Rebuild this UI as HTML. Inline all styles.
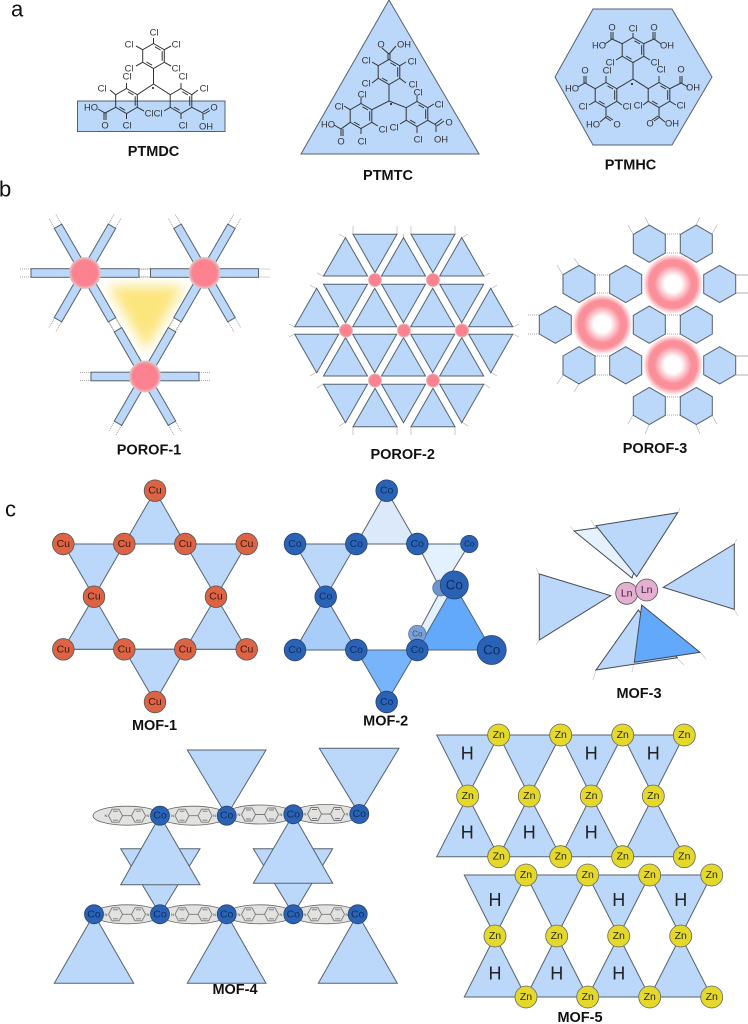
<!DOCTYPE html>
<html><head><meta charset="utf-8"><title>MOF diagram</title>
<style>
html,body{margin:0;padding:0;background:#fff}
svg{display:block;filter:blur(.3px)}
text{font-family:"Liberation Sans",Arial,sans-serif;text-anchor:middle;dominant-baseline:central}
.L{font-size:14.5px;font-weight:bold;fill:#111}
.S{font-size:22px;fill:#111;text-anchor:start}
.c text{font-size:9.4px;fill:#333}
.b{stroke:#333;stroke-width:1;fill:none}
.t use{fill:#bbd8fb;stroke:#56626c;stroke-width:1}
.cu text{font-size:10.5px;fill:#3a1a10}
.co text{font-size:10.5px;fill:#0f2d5c}
.zn text{font-size:10.5px;fill:#2a2a08}
.h text{font-size:18px;fill:#222}
.N text{font-size:4px;fill:#444}
</style></head><body>
<svg xmlns="http://www.w3.org/2000/svg" width="748" height="1024" viewBox="0 0 748 1024">
<defs>
<g id="ring"><polygon points="0,-12.5 10.8,-6.25 10.8,6.25 0,12.5 -10.8,6.25 -10.8,-6.25" fill="none" stroke="#333" stroke-width="1"/><path d="M8.7,-4.8V4.8M-7,6 -1.5,9.2M7,-6 1.5,-9.2" fill="none" stroke="#333" stroke-width="1"/></g>
<g id="arm"><path d="M54,-4H66M54,4H66" stroke="#888" stroke-width=".8" stroke-dasharray="1 1" fill="none"/><rect x="15" y="-4.3" width="39" height="8.6" fill="#bbd8fb" stroke="#56626c" stroke-width="1"/></g>
<polygon id="tu" points="-22,0 22,0 0,-38.4"/>
<polygon id="td" points="-22,0 22,0 0,38.4"/>
<polygon id="hx" points="0,-18.6 16,-9.3 16,9.3 0,18.6 -16,9.3 -16,-9.3" fill="#bbd8fb" stroke="#56626c" stroke-width="1"/>
<radialGradient id="nod"><stop offset="0" stop-color="#fd8290"/><stop offset=".78" stop-color="#fd8290"/><stop offset="1" stop-color="#d8d0d0"/></radialGradient>
<radialGradient id="don"><stop offset="0" stop-color="#fff"/><stop offset=".28" stop-color="#fff"/><stop offset=".62" stop-color="#fa8f9a"/><stop offset=".8" stop-color="#fa8f9a"/><stop offset="1" stop-color="#fa8f9a" stop-opacity="0"/></radialGradient>
<filter id="bl" x="-30%" y="-30%" width="160%" height="160%"><feGaussianBlur stdDeviation="6"/></filter>
<circle id="cu" r="10.8" fill="#dc6344" stroke="#555" stroke-width=".8"/>
<circle id="co" r="10.8" fill="#2a63b5" stroke="#27416d" stroke-width=".8"/>
<circle id="co4" r="9.5" fill="#2a63b5" stroke="#27416d" stroke-width=".8"/>
<circle id="zn" r="11" fill="#e4d92a" stroke="#666" stroke-width=".8"/>
<g id="bpy"><ellipse rx="34" ry="9.5" fill="#e2e3e0" stroke="#666" stroke-width=".8"/><g fill="none" stroke="#777" stroke-width=".9"><polygon points="-18.500,0 -15,-6.500 -8,-6.500 -4.500,0 -8,6.500 -15,6.500"/><polygon points="18.500,0 15,-6.500 8,-6.500 4.500,0 8,6.500 15,6.500"/><path d="M-4.500,0H4.500M-14,-4.500H-9M-14,4.500H-9M14,-4.500H9M14,4.500H9"/></g></g>
</defs>

<text class="S" x="11" y="9">a</text>
<text class="S" x="-1" y="189">b</text>
<text class="S" x="5" y="509">c</text>

<!-- PTMDC -->
<rect x="77.500" y="101" width="147.500" height="30.500" fill="#bbd8fb" stroke="#56626c" stroke-width="1"/>
<g>
<use href="#ring" x="153.500" y="56"/><use href="#ring" x="126.500" y="101"/><use href="#ring" x="181" y="101"/>
<path class="b" d="M153.500,68.500V84L137.300,94.700M153.500,84L170.200,94.700M153.500,43.500V38M142.700,49.700L136,46M164.300,49.700L171,46M142.700,62.300L136,66M164.300,62.300L171,66M126.500,88.500V83M115.700,94.700L110,90M115.700,107.300L105,113L98,109M104,113V120M106,113V120M126.500,113.500V119M137.300,107.300L144,111M181,88.500V83M191.800,94.700L198,90M191.800,107.300L203,113V120M203,112L209,108.500M204,114L210,110.500M181,113.500V119M170.200,107.300L164,111"/>
<circle cx="153" cy="88" r="1" fill="#111"/>
</g>
<g class="c">
<text x="154" y="32">Cl</text><text x="129" y="44">Cl</text><text x="176" y="44">Cl</text><text x="129" y="68">Cl</text><text x="176" y="68">Cl</text>
<text x="127" y="76">Cl</text><text x="102" y="88">Cl</text><text x="149" y="113">Cl</text><text x="127" y="125">Cl</text><text x="91" y="107">HO</text><text x="105" y="125">O</text>
<text x="183" y="76">Cl</text><text x="204" y="88">Cl</text><text x="158" y="113">Cl</text><text x="183" y="125">Cl</text><text x="214" y="107">O</text><text x="206" y="126">OH</text>
</g>
<text class="L" x="153.500" y="152">PTMDC</text>

<!-- PTMTC -->
<polygon points="389,0 479,154 301,154" fill="#bbd8fb" stroke="#56626c" stroke-width="1"/>
<g>
<use href="#ring" x="389" y="72"/><use href="#ring" x="361" y="116"/><use href="#ring" x="417" y="114"/>
<path class="b" d="M389,84.500V101L371.800,109.700M389,101L406.200,107.700M388,59.500V53M390,59.500V53M389,54L382,48M389,54L396,46M378.200,65.700L372,62M399.800,65.700L406,62M378.200,78.300L372,83M399.800,78.300L406,83M361,103.500V98M350.200,109.700L344,106M350.200,122.300L341,129V136M343,129V136M341,129L334,125M361,128.500V134M371.800,122.300L378,126M417,101.500V96M427.800,107.700L434,104M427.800,120.300L436,125V132M435,124L442,119M437,126L444,121M417,126.500V133M406.200,120.300L400,124"/>
<circle cx="391" cy="104" r="1" fill="#111"/>
</g>
<g class="c">
<text x="381" y="44">O</text><text x="404" y="44">OH</text><text x="366" y="60">Cl</text><text x="412" y="61">Cl</text><text x="366" y="83">Cl</text><text x="413" y="84">Cl</text>
<text x="362" y="94">Cl</text><text x="339" y="106">Cl</text><text x="328" y="124">HO</text><text x="341" y="141">O</text><text x="362" y="141">Cl</text><text x="383" y="129">Cl</text>
<text x="418" y="92">Cl</text><text x="439" y="104">Cl</text><text x="394" y="127">Cl</text><text x="418" y="139">Cl</text><text x="449" y="122">O</text><text x="441" y="139">OH</text>
</g>
<text class="L" x="388" y="176">PTMTC</text>

<!-- PTMHC -->
<polygon points="555,77 593,9 672,9 712,77 672,145 593,145" fill="#bbd8fb" stroke="#56626c" stroke-width="1"/>
<g>
<use href="#ring" x="633" y="50"/><use href="#ring" x="606" y="95"/><use href="#ring" x="659" y="95"/>
<path class="b" d="M633,62.500V79L616.800,88.700M633,79L648.200,88.700M633,37.500V33M622.200,43.700L612,39L605,44M611,39V32M613,39V32M643.800,43.700L654,39L661,44M653,39V32M655,39V32M622.200,56.300L616,60M643.800,56.300L650,60M606,82.500V76M595.200,88.700L585,83L578,87M584,83V76M586,83V76M595.200,101.300L589,105M606,107.500V117L600,122M605,117L611,121M607,116L613,120M616.800,101.300L622,105M659,82.500V76M669.800,88.700L681,83L688,87M680,83V76M682,83V76M669.800,101.300L676,105M659,107.500V117L665,122M658,116L652,120M660,117L654,121M648.200,101.300L643,105"/>
<circle cx="632" cy="84" r="1" fill="#111"/>
</g>
<g class="c">
<text x="633" y="28">Cl</text><text x="612" y="27">O</text><text x="654" y="27">O</text><text x="599" y="45">HO</text><text x="667" y="45">OH</text><text x="610" y="62">Cl</text><text x="655" y="62">Cl</text>
<text x="607" y="70">Cl</text><text x="585" y="70">O</text><text x="572" y="88">HO</text><text x="583" y="106">Cl</text><text x="627" y="106">Cl</text><text x="593" y="124">HO</text><text x="617" y="124">O</text>
<text x="661" y="69">Cl</text><text x="681" y="69">O</text><text x="693" y="87">OH</text><text x="681" y="105">Cl</text><text x="638" y="105">Cl</text><text x="650" y="123">O</text><text x="672" y="123">OH</text>
</g>
<text class="L" x="630.500" y="165.500">PTMHC</text>

<!-- POROF-1 -->
<polygon points="108,286 184,286 146,350" fill="#fbe57d" filter="url(#bl)"/>
<g transform="translate(85 273)"><use href="#arm"/><use href="#arm" transform="rotate(60)"/><use href="#arm" transform="rotate(120)"/><use href="#arm" transform="rotate(180)"/><use href="#arm" transform="rotate(240)"/><use href="#arm" transform="rotate(300)"/></g>
<g transform="translate(204.500 273)"><use href="#arm"/><use href="#arm" transform="rotate(60)"/><use href="#arm" transform="rotate(120)"/><use href="#arm" transform="rotate(180)"/><use href="#arm" transform="rotate(240)"/><use href="#arm" transform="rotate(300)"/></g>
<g transform="translate(145 376.500)"><use href="#arm"/><use href="#arm" transform="rotate(60)"/><use href="#arm" transform="rotate(120)"/><use href="#arm" transform="rotate(180)"/><use href="#arm" transform="rotate(240)"/><use href="#arm" transform="rotate(300)"/></g>
<circle cx="85" cy="273" r="16" fill="url(#nod)"/><circle cx="204.500" cy="273" r="16" fill="url(#nod)"/><circle cx="145" cy="376.500" r="16" fill="url(#nod)"/>
<text class="L" x="149" y="450.500">POROF-1</text>

<!-- POROF-2 -->
<path d="M353,234V226M397,234V226M411,234V226M455,234V226M345.700,238L339,234M403.700,238V234M461.700,238L468,234M323,276L317,273M484,276L490,273M316.700,289L310,285M490.700,289L497,285M294.700,327L289,324M512.700,327L519,324M294.700,334L289,337M512.700,334L519,337M316.700,372L310,376M490.700,372L497,376M323,384L317,388M484,384L490,388M345.700,422L339,426M461.700,422L468,426M353,427V435M397,427V435M411,427V435M455,427V435" stroke="#aaa" stroke-width=".6" fill="none"/>
<g class="t">
<use href="#td" x="375" y="234.300"/><use href="#td" x="433" y="234.300"/>
<use href="#tu" x="345.500" y="276"/><use href="#tu" x="403.500" y="276"/><use href="#tu" x="461.700" y="276"/>
<use href="#td" x="345.500" y="284.300"/><use href="#td" x="403.500" y="284.300"/><use href="#td" x="461.700" y="284.300"/>
<use href="#tu" x="316.700" y="326.700"/><use href="#tu" x="374.700" y="326.700"/><use href="#tu" x="432.700" y="326.700"/><use href="#tu" x="490.700" y="326.700"/>
<use href="#td" x="316.700" y="334.300"/><use href="#td" x="374.700" y="334.300"/><use href="#td" x="432.700" y="334.300"/><use href="#td" x="490.700" y="334.300"/>
<use href="#tu" x="345.500" y="376"/><use href="#tu" x="403.500" y="376"/><use href="#tu" x="461.700" y="376"/>
<use href="#td" x="345.500" y="384.300"/><use href="#td" x="403.500" y="384.300"/><use href="#td" x="461.700" y="384.300"/>
<use href="#tu" x="375" y="426.700"/><use href="#tu" x="433" y="426.700"/>
</g>
<g fill="url(#nod)"><circle cx="375" cy="280" r="7"/><circle cx="433" cy="280" r="7"/><circle cx="346" cy="330.500" r="7"/><circle cx="404" cy="330.500" r="7"/><circle cx="462" cy="330.500" r="7"/><circle cx="375" cy="380.500" r="7"/><circle cx="433" cy="380.500" r="7"/></g>
<text class="L" x="402.700" y="455">POROF-2</text>

<!-- POROF-3 -->
<path d="M665,234H680M665,253H680M595,275H610M595,293H610M539,315H528M539,334H528M595,356H610M595,375H610M665,397H680M665,415H680M665,315H680M665,334H680" stroke="#888" stroke-width=".7" stroke-dasharray="1 1" fill="none"/>
<path d="M736,275H748M736,293H748M736,356H748M736,375H748" stroke="#999" stroke-width=".7" fill="none"/>
<path d="M633,234L628,225M649,225L645,217M696,225L700,217M712,234L717,225M563,275L557,265M579,265L574,258M563,375L557,384M579,384L574,392M633,415L628,424M649,425L645,434M696,425L700,434M712,415L717,424" stroke="#aaa" stroke-width=".6" fill="none"/>
<use href="#hx" x="649.300" y="243.700"/><use href="#hx" x="696.300" y="243.700"/>
<use href="#hx" x="579" y="284"/><use href="#hx" x="625.700" y="284"/><use href="#hx" x="719.700" y="284"/>
<use href="#hx" x="555.300" y="324.700"/><use href="#hx" x="649.300" y="324.700"/><use href="#hx" x="696.300" y="324.700"/>
<use href="#hx" x="579" y="365.300"/><use href="#hx" x="625.700" y="365.300"/><use href="#hx" x="719.700" y="365.300"/>
<use href="#hx" x="649.300" y="406"/><use href="#hx" x="696.300" y="406"/>
<circle cx="602.300" cy="324.300" r="30" fill="#fff"/><circle cx="673" cy="284" r="30" fill="#fff"/><circle cx="673" cy="365" r="30" fill="#fff"/>
<circle cx="602.300" cy="324.300" r="30" fill="url(#don)"/><circle cx="673" cy="284" r="30" fill="url(#don)"/><circle cx="673" cy="365" r="30" fill="url(#don)"/>
<text class="L" x="655" y="449">POROF-3</text>

<!-- MOF-1 -->
<path d="M63.300,544H246.700M63.300,649.300H246.700" stroke="#56626c" stroke-width="1"/>
<g fill="#bbd8fb" stroke="#56626c" stroke-width="1">
<polygon points="155,490.700 124.300,544 185.300,544"/><polygon points="63.300,544 124.300,544 94,596.700"/><polygon points="185.300,544 246.700,544 216,596.700"/>
<polygon points="94,596.700 63.300,649.300 124.300,649.300"/><polygon points="216,596.700 185.300,649.300 246.700,649.300"/><polygon points="155,702 124.300,649.300 185.300,649.300"/>
</g>
<g class="cu">
<use href="#cu" x="155" y="490.700"/><text x="155" y="490.700">Cu</text>
<use href="#cu" x="63.300" y="544"/><text x="63.300" y="544">Cu</text>
<use href="#cu" x="124.300" y="544"/><text x="124.300" y="544">Cu</text>
<use href="#cu" x="185.300" y="544"/><text x="185.300" y="544">Cu</text>
<use href="#cu" x="246.700" y="544"/><text x="246.700" y="544">Cu</text>
<use href="#cu" x="94" y="596.700"/><text x="94" y="596.700">Cu</text>
<use href="#cu" x="216" y="596.700"/><text x="216" y="596.700">Cu</text>
<use href="#cu" x="63.300" y="649.300"/><text x="63.300" y="649.300">Cu</text>
<use href="#cu" x="124.300" y="649.300"/><text x="124.300" y="649.300">Cu</text>
<use href="#cu" x="185.300" y="649.300"/><text x="185.300" y="649.300">Cu</text>
<use href="#cu" x="246.700" y="649.300"/><text x="246.700" y="649.300">Cu</text>
<use href="#cu" x="155" y="702"/><text x="155" y="702">Cu</text>
</g>
<text class="L" x="154.500" y="726">MOF-1</text>

<!-- MOF-2 -->
<path d="M295,544H469M295,650H417" stroke="#56626c" stroke-width="1"/>
<g stroke="#56626c" stroke-width="1">
<polygon points="386.700,490.700 356.300,544 417.300,544" fill="#dbe9fb"/>
<polygon points="295,544 356.300,544 325.700,596.700" fill="#bbd8fb"/>
<polygon points="417.300,544 469.300,544 441,590" fill="#e3f0fd"/>
<polygon points="325.700,596.700 295,650 356.300,650" fill="#a8cdf9"/>
<polygon points="356.300,650 417.300,650 386.700,702" fill="#78b4fb"/>
<polygon points="441,590 417.300,634 436,640 462,600" fill="#e3f0fd"/>
<polygon points="454.300,585 417.300,650 491.700,650" fill="#62a8fb"/>
</g>
<circle cx="440.700" cy="588" r="8" fill="#6f94cc" stroke="#4a6a9a" stroke-width=".7"/>
<circle cx="417.300" cy="634" r="8.700" fill="#7ba1d6" stroke="#4a6a9a" stroke-width=".7"/>
<g class="co">
<use href="#co" x="386.700" y="490.700"/><text x="386.700" y="490.700">Co</text>
<use href="#co" x="295" y="544"/><text x="295" y="544">Co</text>
<use href="#co" x="356.300" y="544"/><text x="356.300" y="544">Co</text>
<use href="#co" x="417.300" y="544"/><text x="417.300" y="544">Co</text>
<circle cx="469.300" cy="544" r="8.700" fill="#2a63b5" stroke="#27416d" stroke-width=".7"/><text x="469.300" y="544" style="font-size:8px">Co</text>
<use href="#co" x="325.700" y="596.700"/><text x="325.700" y="596.700">Co</text>
<use href="#co" x="295" y="650"/><text x="295" y="650">Co</text>
<use href="#co" x="356.300" y="650"/><text x="356.300" y="650">Co</text>
<use href="#co" x="417.300" y="650"/><text x="417.300" y="650">Co</text>
<use href="#co" x="386.700" y="702"/><text x="386.700" y="702">Co</text>
<text x="417.300" y="634" style="font-size:8px;fill:#33507c">Co</text>
<circle cx="454.300" cy="585" r="14" fill="#2a63b5" stroke="#27416d" stroke-width=".8"/><text x="454.300" y="585" style="font-size:13.5px">Co</text>
<circle cx="491.700" cy="650" r="14.500" fill="#2a63b5" stroke="#27416d" stroke-width=".8"/><text x="491.700" y="650" style="font-size:13.5px">Co</text>
</g>
<text class="L" x="385.700" y="721.500">MOF-2</text>

<!-- MOF-3 -->
<path d="M574,531L570,526M596,528L591,520M678,513L680,508M734,544L737,539M734,609L738,616M539,574L536,568M539,640L536,645M700,652L706,659M677,658L684,665M634,662L632,672M596,670L593,680" stroke="#bbb" stroke-width=".6" fill="none"/>
<g stroke="#444c55" stroke-width="1">
<polygon points="574,531 652,520 632,578" fill="#e5f1fd"/>
<polygon points="596,525.700 677.700,512.700 636.700,576.700" fill="#bbd8fb"/>
<polygon points="539.300,574 610.700,595.700 539.300,640" fill="#bbd8fb"/>
<polygon points="734.300,544 663.300,587.300 734.300,609.300" fill="#bbd8fb"/>
<polygon points="596,670 677.300,657.700 638.300,610" fill="#bbd8fb"/>
<polygon points="641.700,605 700,652.300 634.300,662.300" fill="#62a8fb"/>
</g>
<circle cx="626.700" cy="593.300" r="11" fill="#e4afd1" stroke="#555" stroke-width=".8"/>
<circle cx="646.700" cy="590" r="11" fill="#e4afd1" stroke="#555" stroke-width=".8"/>
<text x="626.700" y="593.300" style="font-size:10.5px;fill:#40203a">Ln</text>
<text x="646.700" y="590" style="font-size:10.5px;fill:#40203a">Ln</text>
<text class="L" x="639" y="694">MOF-3</text>

<!-- MOF-4 -->
<g fill="#bbd8fb" stroke="#56626c" stroke-width="1">
<polygon points="120.700,848.700 200,848.700 160,914.300"/><polygon points="253.300,848.700 332.700,848.700 293.300,914.300"/>
<polygon points="187.300,750 266,750 226.700,815.700"/><polygon points="319.300,748.300 399,748.300 359.300,814"/>
<polygon points="160,815.700 120.700,884.700 200,884.700"/><polygon points="293.300,814.300 253.300,883.300 332.700,883.300"/>
<polygon points="94,914.300 54.300,983.300 133.700,983.300"/><polygon points="226.700,914.300 187.300,983.300 266,983.300"/><polygon points="357.700,914 318.300,983.300 397.300,983.300"/>
</g>
<use href="#bpy" x="127" y="815.700"/><use href="#bpy" x="193.500" y="815.700"/><use href="#bpy" x="260" y="814.500"/><use href="#bpy" x="326" y="814"/>
<use href="#bpy" x="127" y="914.300"/><use href="#bpy" x="193.500" y="914.300"/><use href="#bpy" x="260" y="914.300"/><use href="#bpy" x="326" y="914.300"/>
<g class="N">
<text x="106" y="815.700">N</text><text x="148" y="815.700">N</text><text x="172.500" y="815.700">N</text><text x="214.500" y="815.700">N</text><text x="239" y="814.500">N</text><text x="281" y="814.500">N</text><text x="305" y="814">N</text><text x="347" y="814">N</text>
<text x="106" y="914.300">N</text><text x="148" y="914.300">N</text><text x="172.500" y="914.300">N</text><text x="214.500" y="914.300">N</text><text x="239" y="914.300">N</text><text x="281" y="914.300">N</text><text x="305" y="914.300">N</text><text x="347" y="914.300">N</text>
</g>
<g class="co">
<use href="#co4" x="160" y="815.700"/><text x="160" y="815.700">Co</text>
<use href="#co4" x="226.700" y="815.700"/><text x="226.700" y="815.700">Co</text>
<use href="#co4" x="293.300" y="814.300"/><text x="293.300" y="814.300">Co</text>
<use href="#co4" x="359.300" y="814"/><text x="359.300" y="814">Co</text>
<use href="#co4" x="94" y="914.300"/><text x="94" y="914.300">Co</text>
<use href="#co4" x="160" y="914.300"/><text x="160" y="914.300">Co</text>
<use href="#co4" x="226.700" y="914.300"/><text x="226.700" y="914.300">Co</text>
<use href="#co4" x="293.300" y="914.300"/><text x="293.300" y="914.300">Co</text>
<use href="#co4" x="357.700" y="914.300"/><text x="357.700" y="914.300">Co</text>
</g>
<text class="L" x="235" y="990">MOF-4</text>

<!-- MOF-5 -->
<g fill="#bbd8fb" stroke="#56626c" stroke-width="1">
<polygon points="436.700,735 498.700,735 467.700,796"/><polygon points="498.700,735 560.700,735 529.300,796"/><polygon points="560.700,735 622.700,735 591.300,796"/><polygon points="622.700,735 684.300,735 653.300,796"/>
<polygon points="436.700,856.700 498.700,856.700 467.700,796"/><polygon points="498.700,856.700 560.700,856.700 529.300,796"/><polygon points="560.700,856.700 622.700,856.700 591.300,796"/><polygon points="622.700,856.700 684.300,856.700 653.300,796"/>
<polygon points="464.300,875 526,875 495,936"/><polygon points="526,875 587.700,875 556.700,936"/><polygon points="587.700,875 649.700,875 618.700,936"/><polygon points="649.700,875 711.700,875 680.700,936"/>
<polygon points="464.300,997 526,997 495,936"/><polygon points="526,997 587.700,997 556.700,936"/><polygon points="587.700,997 649.700,997 618.700,936"/><polygon points="649.700,997 711.700,997 680.700,936"/>
</g>
<g class="h">
<text x="467.300" y="753.500">H</text><text x="591.300" y="753.500">H</text><text x="653.300" y="753.500">H</text>
<text x="467.300" y="832.700">H</text><text x="529.300" y="832.700">H</text><text x="591.300" y="832.700">H</text>
<text x="495" y="900">H</text><text x="618.700" y="900">H</text><text x="680.700" y="900">H</text>
<text x="495" y="973.300">H</text><text x="556.700" y="973.300">H</text><text x="618.700" y="973.300">H</text>
</g>
<g class="zn">
<use href="#zn" x="498.700" y="735"/><text x="498.700" y="735">Zn</text>
<use href="#zn" x="560.700" y="735"/><text x="560.700" y="735">Zn</text>
<use href="#zn" x="622.700" y="735"/><text x="622.700" y="735">Zn</text>
<use href="#zn" x="684.300" y="735"/><text x="684.300" y="735">Zn</text>
<use href="#zn" x="467.700" y="796"/><text x="467.700" y="796">Zn</text>
<use href="#zn" x="529.300" y="796"/><text x="529.300" y="796">Zn</text>
<use href="#zn" x="591.300" y="796"/><text x="591.300" y="796">Zn</text>
<use href="#zn" x="653.300" y="796"/><text x="653.300" y="796">Zn</text>
<use href="#zn" x="498.700" y="856.700"/><text x="498.700" y="856.700">Zn</text>
<use href="#zn" x="560.700" y="856.700"/><text x="560.700" y="856.700">Zn</text>
<use href="#zn" x="622.700" y="856.700"/><text x="622.700" y="856.700">Zn</text>
<use href="#zn" x="684.300" y="856.700"/><text x="684.300" y="856.700">Zn</text>
<use href="#zn" x="526" y="875"/><text x="526" y="875">Zn</text>
<use href="#zn" x="587.700" y="875"/><text x="587.700" y="875">Zn</text>
<use href="#zn" x="649.700" y="875"/><text x="649.700" y="875">Zn</text>
<use href="#zn" x="711.700" y="875"/><text x="711.700" y="875">Zn</text>
<use href="#zn" x="495" y="936"/><text x="495" y="936">Zn</text>
<use href="#zn" x="556.700" y="936"/><text x="556.700" y="936">Zn</text>
<use href="#zn" x="618.700" y="936"/><text x="618.700" y="936">Zn</text>
<use href="#zn" x="680.700" y="936"/><text x="680.700" y="936">Zn</text>
<use href="#zn" x="526" y="997"/><text x="526" y="997">Zn</text>
<use href="#zn" x="587.700" y="997"/><text x="587.700" y="997">Zn</text>
<use href="#zn" x="649.700" y="997"/><text x="649.700" y="997">Zn</text>
<use href="#zn" x="711.700" y="997"/><text x="711.700" y="997">Zn</text>
</g>
<text class="L" x="580" y="1018">MOF-5</text>
</svg>
</body></html>
